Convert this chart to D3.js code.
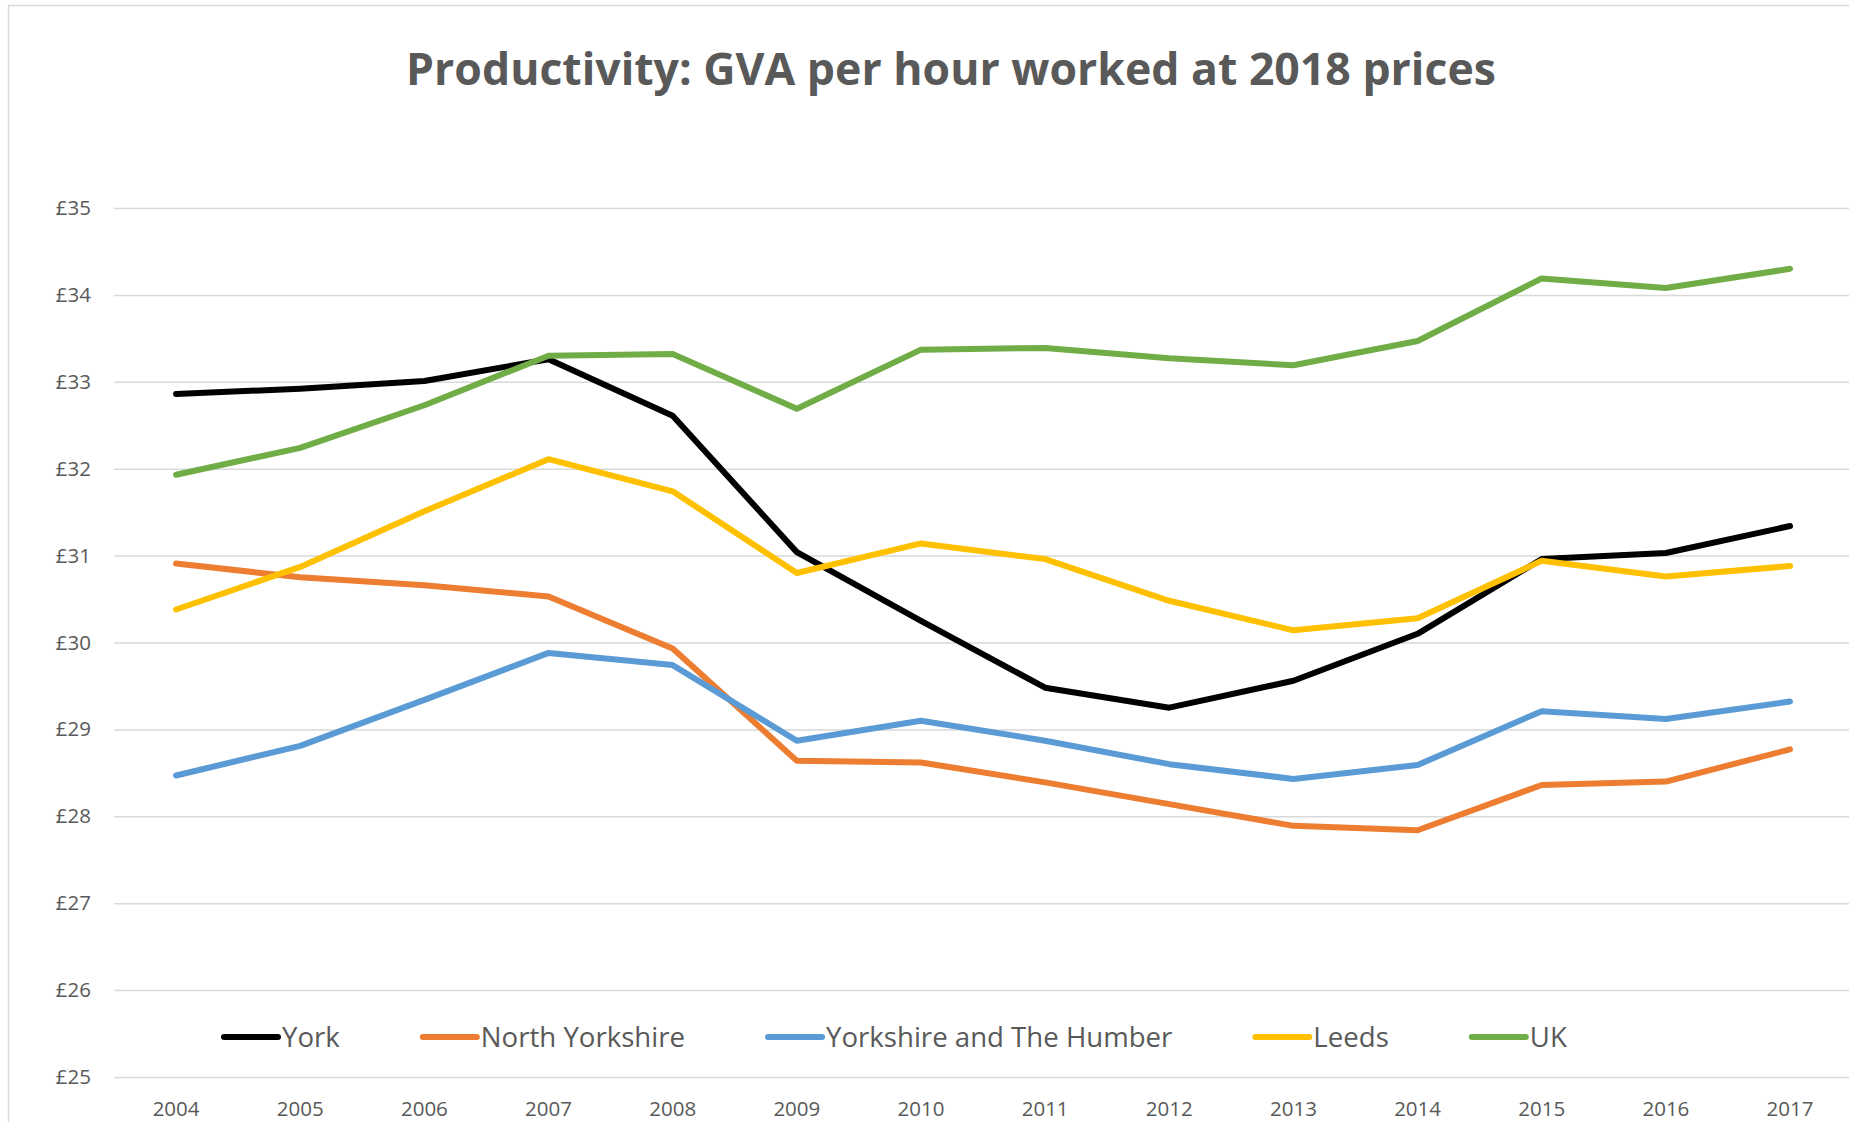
<!DOCTYPE html>
<html>
<head>
<meta charset="utf-8">
<title>Productivity: GVA per hour worked</title>
<script src="https://cdn.jsdelivr.net/npm/d3@7"></script>
<style>
  body { margin: 0; background: #fff; }
  text { font-family: "Open Sans", sans-serif; fill: #595959; }
</style>
</head>
<body>
<div id="chart-area"></div>
<script>
// data
const years = ["2004", "2005", "2006", "2007", "2008", "2009", "2010", "2011", "2012", "2013", "2014", "2015", "2016", "2017"];
const seriesNames = ["York", "North Yorkshire", "Yorkshire and The Humber", "Leeds", "UK"];
const seriesColors = ["#000000", "#ED7D31", "#5B9BD5", "#FFC000", "#70AD47"];

const york = [32.86, 32.92, 33.01, 33.26, 32.61, 31.04, 30.25, 29.48, 29.25, 29.56, 30.10, 30.96, 31.03, 31.34];
const northYorkshire = [30.91, 30.75, 30.66, 30.53, 29.93, 28.64, 28.62, 28.39, 28.14, 27.89, 27.84, 28.36, 28.40, 28.77];
const yorksHumber = [28.47, 28.81, 29.34, 29.88, 29.74, 28.87, 29.10, 28.87, 28.60, 28.43, 28.59, 29.21, 29.12, 29.32];
const leeds = [30.38, 30.87, 31.51, 32.11, 31.74, 30.80, 31.14, 30.96, 30.48, 30.14, 30.28, 30.94, 30.76, 30.88];
const uk = [31.93, 32.24, 32.73, 33.30, 33.32, 32.69, 33.37, 33.39, 33.27, 33.19, 33.47, 34.19, 34.08, 34.30];

const yTicks = [25, 26, 27, 28, 29, 30, 31, 32, 33, 34, 35];
const titleText = "Productivity: GVA per hour worked at 2018 prices";

class LineChartVis {
  constructor(_parentElement) {
    this.parentElement = _parentElement;
    this.initVis();
  }

  initVis() {
    let vis = this;

    vis.width = 1849;
    vis.height = 1122;

    vis.svg = d3.select("#" + vis.parentElement).append("svg")
        .attr("width", vis.width)
        .attr("height", vis.height);

    // chart border (runs off the right / bottom like the screenshot)
    vis.svg.append("rect")
        .attr("x", 8.5).attr("y", 5.5)
        .attr("width", vis.width).attr("height", vis.height)
        .attr("fill", "none")
        .attr("stroke", "#d9d9d9")
        .attr("stroke-width", 1.5);

    // title, shrunk/grown to match the original width
    let title = vis.svg.append("text")
        .attr("x", 951).attr("y", 85)
        .attr("text-anchor", "middle")
        .attr("font-weight", "bold")
        .style("font-size", "44px")
        .text(titleText);
    let tw = title.node().getComputedTextLength();
    title.style("font-size", (44 * 1090 / tw) + "px");

    vis.x = d3.scaleBand()
        .domain(years)
        .range([114, 114 + 124.15 * years.length]);

    vis.y = d3.scaleLinear()
        .domain([25, 35])
        .range([1077, 208]);

    vis.wrangleData();
  }

  wrangleData() {
    let vis = this;
    let values = [york, northYorkshire, yorksHumber, leeds, uk];

    vis.displayData = seriesNames.map((name, i) => ({
      name: name,
      color: seriesColors[i],
      points: years.map((yr, j) => ({ year: yr, value: values[i][j] }))
    }));

    vis.updateVis();
  }

  updateVis() {
    let vis = this;

    // gridlines + y labels
    let yAxis = vis.svg.append("g")
        .attr("class", "axis y-axis")
        .attr("transform", "translate(" + vis.x.range()[0] + ",0)")
        .call(d3.axisLeft(vis.y)
            .tickValues(yTicks)
            .tickSize(-(vis.x.range()[1] - vis.x.range()[0]))
            .tickPadding(23)
            .tickFormat(d => "£" + d));
    yAxis.select(".domain").remove();
    yAxis.selectAll(".tick line")
        .attr("stroke", "#d9d9d9")
        .attr("stroke-width", 1.5);
    yAxis.selectAll(".tick text")
        .attr("fill", "#595959")
        .style("font-size", "20.5px");

    // x labels
    let xAxis = vis.svg.append("g")
        .attr("class", "axis x-axis")
        .attr("transform", "translate(0," + vis.y(25) + ")")
        .call(d3.axisBottom(vis.x).tickSize(0).tickPadding(24));
    xAxis.select(".domain").remove();
    xAxis.selectAll(".tick text")
        .attr("fill", "#595959")
        .style("font-size", "20.5px");

    let line = d3.line()
        .x(d => vis.x(d.year) + vis.x.bandwidth() / 2)
        .y(d => vis.y(d.value));

    vis.svg.append("g").selectAll(".series")
        .data(vis.displayData)
        .enter().append("path")
        .attr("class", "series")
        .attr("fill", "none")
        .attr("stroke", d => d.color)
        .attr("stroke-width", 6)
        .attr("stroke-linejoin", "round")
        .attr("stroke-linecap", "round")
        .attr("d", d => line(d.points));

    // legend, laid out left to right like Excel does
    let legend = vis.svg.append("g").attr("class", "legend");
    let lx = 224;
    let ly = 1037;
    vis.displayData.forEach(function(d) {
      let item = legend.append("g").attr("transform", "translate(" + lx + "," + ly + ")");
      item.append("line")
          .attr("x1", 0).attr("x2", 54)
          .attr("y1", 0).attr("y2", 0)
          .attr("stroke", d.color)
          .attr("stroke-width", 6)
          .attr("stroke-linecap", "round");
      let t = item.append("text")
          .attr("x", 58)
          .attr("y", 0)
          .attr("dy", "0.36em")
          .style("font-size", "27.6px")
          .text(d.name);
      lx += 58 + t.node().getComputedTextLength() + 83;
    });
  }
}

new LineChartVis("chart-area");
</script>
</body>
</html>
